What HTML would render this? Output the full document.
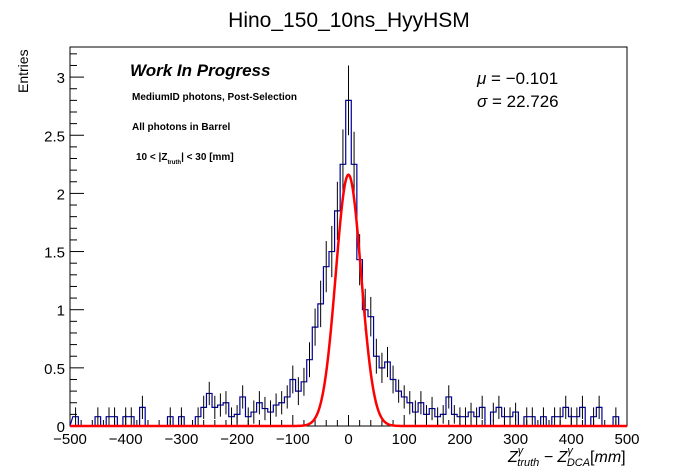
<!DOCTYPE html>
<html><head><meta charset="utf-8"><style>
body{margin:0;background:#fff;}
svg{display:block;font-family:"Liberation Sans",Arial,sans-serif;}
</style></head><body>
<svg id="chart" width="698" height="474" viewBox="0 0 698 474">
<text x="349" y="27" font-size="21" text-anchor="middle">Hino_150_10ns_HyyHSM</text>
<rect x="70" y="47" width="557" height="379" fill="none" stroke="#000" stroke-width="1"/>
<g id="axes"></g>
<g id="hist"></g>
<g id="fit"></g>
<text x="28" y="93" font-size="14" transform="rotate(-90 28 93)" text-anchor="start">Entries</text>
<text x="508" y="462" font-size="16" font-style="italic">Z<tspan font-size="11" dy="-8">γ</tspan><tspan font-size="11" dy="12" dx="-6">truth</tspan><tspan dy="-4"> − Z</tspan><tspan font-size="11" dy="-8">γ</tspan><tspan font-size="11" dy="12" dx="-6">DCA</tspan><tspan dy="-4" font-style="normal">[</tspan>mm<tspan font-style="normal">]</tspan></text>
<text x="130" y="76" font-size="17" font-weight="bold" font-style="italic">Work In Progress</text>
<text x="132" y="100" font-size="10" font-weight="bold">MediumID photons, Post-Selection</text>
<text x="132" y="130" font-size="10" font-weight="bold">All photons in Barrel</text>
<text x="136" y="160" font-size="10" font-weight="bold">10 &lt; |Z<tspan font-size="6" dy="4">truth</tspan><tspan dy="-4">| &lt; 30 [mm]</tspan></text>
<text x="477" y="84" font-size="17"><tspan font-style="italic">μ</tspan> = −0.101</text>
<text x="477" y="107" font-size="17"><tspan font-style="italic">σ</tspan> = 22.726</text>
</svg>
<script>
const binCenters = [-490,-480,-470,-460,-450,-440,-430,-420,-410,-400,-390,-380,-370,-360,-350,-340,-330,-320,-310,-300,-290,-280,-270,-260,-250,-240,-230,-220,-210,-200,-190,-180,-170,-160,-150,-140,-130,-120,-110,-100,-90,-80,-70,-60,-50,-40,-30,-20,-10,0,10,20,30,40,50,60,70,80,90,100,110,120,130,140,150,160,170,180,190,200,210,220,230,240,250,260,270,280,290,300,310,320,330,340,350,360,370,380,390,400,410,420,430,440,450,460,470,480,490];
const binValues = [0.08,0,0,0,0.08,0,0.08,0.08,0,0.08,0.08,0,0.16,0,0,0,0,0.08,0,0.08,0,0,0.08,0.16,0.28,0.16,0.18,0.2,0.08,0.1,0.25,0.08,0.12,0.2,0.15,0.12,0.18,0.2,0.25,0.4,0.3,0.38,0.57,0.85,1.05,1.37,1.5,1.85,2.25,2.8,2.25,1.43,1.0,0.94,0.6,0.5,0.55,0.4,0.3,0.25,0.2,0.12,0.2,0.1,0.15,0.08,0.1,0.25,0.1,0.08,0.08,0.12,0.08,0.16,0,0.12,0.16,0.08,0.08,0.12,0,0.08,0.08,0,0.08,0,0.08,0.08,0.16,0.08,0.08,0.16,0,0.08,0.16,0,0,0.08,0];
const binErrors = [0.08,0,0,0,0.08,0,0.08,0.08,0,0.08,0.08,0,0.1,0,0,0,0,0.08,0,0.08,0,0,0.08,0.1,0.1,0.1,0.1,0.1,0.08,0.08,0.1,0.08,0.1,0.1,0.1,0.1,0.1,0.1,0.1,0.12,0.12,0.12,0.15,0.16,0.2,0.22,0.22,0.25,0.3,0.3,0.28,0.22,0.18,0.17,0.15,0.13,0.13,0.12,0.1,0.1,0.1,0.1,0.1,0.08,0.1,0.08,0.08,0.1,0.08,0.08,0.08,0.08,0.08,0.1,0,0.08,0.1,0.08,0.08,0.08,0,0.08,0.08,0,0.08,0,0.08,0.08,0.1,0.08,0.08,0.1,0,0.08,0.1,0,0,0.08,0];
const yTickLabels = [0,0.5,1,1.5,2,2.5,3];
const xTickLabels = [-500,-400,-300,-200,-100,0,100,200,300,400,500];
const fitMean = -0.101, fitSigma = 22.726, fitAmp = 2.16;
const binWidth = 10;

const NS='http://www.w3.org/2000/svg';
const X0=70,X1=627,Y0=426,YPU=116.3;
const sx=v=>X0+(v+500)*(X1-X0)/1000;
const sy=v=>Y0-v*YPU;
function mk(tag,attrs,parent){const e=document.createElementNS(NS,tag);for(const k in attrs)e.setAttribute(k,attrs[k]);document.getElementById(parent).appendChild(e);return e;}

yTickLabels.forEach(v=>{
  const l=mk('line',{x1:X0,x2:X0+14,y1:sy(v),y2:sy(v),stroke:'#000'},'axes');
  
  
  const t=mk('text',{x:X0-5,y:sy(v)+6,'font-size':15,'text-anchor':'end'},'axes');
  t.textContent=v;
  
  
});
for(let v=0.1;v<3.3;v+=0.1){
  if(Math.abs(v*2-Math.round(v*2))<1e-6)continue;
  const l=mk('line',{x1:X0,x2:X0+7,y1:sy(v),y2:sy(v),stroke:'#000'},'axes');
  
  
}
xTickLabels.forEach(v=>{
  const l=mk('line',{x1:sx(v),x2:sx(v),y1:Y0,y2:Y0-11,stroke:'#000'},'axes');
  
  
  const t=mk('text',{x:sx(v),y:Y0+18,'font-size':15,'text-anchor':'middle'},'axes');
  t.textContent=v<0?'−'+(-v):v;
  
  
});
for(let v=-480;v<500;v+=20){
  if(v%100===0)continue;
  const l=mk('line',{x1:sx(v),x2:sx(v),y1:Y0,y2:Y0-6,stroke:'#000'},'axes');
  
  
}
let d='M'+sx(-500)+','+Y0;
binCenters.forEach((c,i)=>{
  const y=sy(binValues[i]);
  d+=' L'+sx(c-binWidth/2)+','+y+' L'+sx(c+binWidth/2)+','+y;
});
d+=' L'+sx(500)+','+Y0;
const hp=mk('path',{d:d,fill:'none',stroke:'#000099','stroke-width':1.2},'hist');


binCenters.forEach((c,i)=>{
  if(binErrors[i]<=0)return;
  const e=mk('line',{x1:sx(c),x2:sx(c),y1:sy(binValues[i]-binErrors[i]),y2:sy(binValues[i]+binErrors[i]),stroke:'#000','stroke-width':1},'hist');
  
  
});
let fd='';
for(let x=-500;x<=500;x+=1){
  const v=fitAmp*Math.exp(-0.5*Math.pow((x-fitMean)/fitSigma,2));
  fd+=(fd?' L':'M')+sx(x).toFixed(2)+','+sy(v).toFixed(2);
}
const fp=mk('path',{d:fd,fill:'none',stroke:'#ff0000','stroke-width':2.5},'fit');


</script>
</body></html>
